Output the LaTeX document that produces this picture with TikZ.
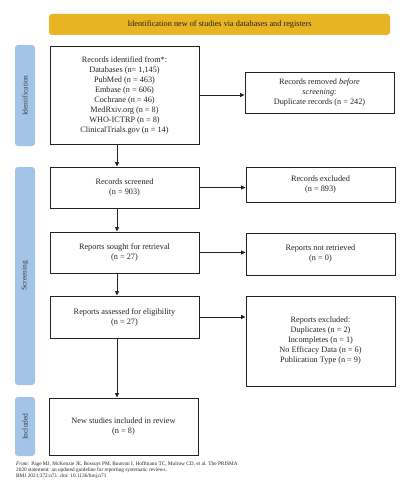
\documentclass[tikz,border=0pt]{standalone}
\usepackage{fontspec}
\setmainfont{Liberation Serif}
\usetikzlibrary{arrows.meta}
\definecolor{banner}{HTML}{E8B424}
\definecolor{sidebar}{HTML}{A2C4E6}
\definecolor{ink}{HTML}{222222}
\begin{document}
\begin{tikzpicture}[x=1pt,y=-1pt,
  box/.style={draw=ink, line width=0.9pt, align=center, inner sep=0pt,
    minimum width=149pt, text=ink, font=\fontsize{8.25}{10}\selectfont},
  side/.style={fill=sidebar, rounded corners=3pt, minimum width=20pt, inner sep=0pt},
  sidelabel/.style={rotate=90, text=black!75, font=\fontsize{7.5}{8}\selectfont},
  arr/.style={draw=ink, line width=0.9pt, -{Triangle[length=4.5pt,width=4pt]}}]
\path[use as bounding box] (0,0) rectangle (410,500);

\node[fill=banner, rounded corners=3pt, minimum width=341pt, minimum height=21pt,
  inner sep=0pt, text=ink, font=\fontsize{8.25}{10}\selectfont] (banner) at (219.5,24.5)
  {Identification new of studies via databases and registers};

\node[side, minimum height=101pt] (sid) at (25,95.5) {};
\node[sidelabel] (sidt) at (sid.center) {Identification};
\node[side, minimum height=218pt] (ssc) at (25,276) {};
\node[sidelabel] (ssct) at (ssc.center) {Screening};
\node[side, minimum height=59pt] (sin) at (25,426.5) {};
\node[sidelabel] (sint) at (sin.center) {Included};

\node[box, minimum height=98pt] (b1) at (124.5,95) {Records identified from*:\\Databases (n= 1,145)\\PubMed (n = 463)\\Embase (n = 606)\\Cochrane (n = 46)\\MedRxiv.org (n = 8)\\WHO-ICTRP (n = 8)\\ClinicalTrials.gov (n = 14)};
\node[box, minimum height=41pt] (b2) at (124.5,187.5) {Records screened\\(n = 903)};
\node[box, minimum height=41pt] (b3) at (124.5,252.5) {Reports sought for retrieval\\(n = 27)};
\node[box, minimum height=42pt] (b4) at (124.5,317) {Reports assessed for eligibility\\(n = 27)};
\node[box, minimum height=57pt] (b5) at (123.5,426.5) {New studies included in review\\(n = 8)};

\node[box, minimum height=41pt] (r1) at (319.5,92.5) {Records removed \textit{before}\\\textit{screening}:\\Duplicate records (n = 242)};
\node[box, minimum height=35pt] (r2) at (320.5,184.5) {Records excluded\\(n = 893)};
\node[box, minimum height=42pt] (r3) at (320.5,254) {Reports not retrieved\\(n = 0)};
\node[box, minimum height=90pt] (r4) at (320.5,341) {Reports excluded:\\Duplicates (n = 2)\\Incompletes (n = 1)\\No Efficacy Data (n = 6)\\Publication Type (n = 9)};

\coordinate (ax) at (117,0);
\draw[arr] (b1.south -| ax) -- (b2.north -| ax);
\draw[arr] (b2.south -| ax) -- (b3.north -| ax);
\draw[arr] (b3.south -| ax) -- (b4.north -| ax);
\draw[arr] (b4.south -| ax) -- (b5.north -| ax);

\draw[arr] (b1.east) -- (b1.east -| r1.west);
\draw[arr] (b2.east) -- (b2.east -| r2.west);
\draw[arr] (b3.east) -- (b3.east -| r3.west);
\draw[arr] (b4.east) -- (b4.east -| r4.west);

\node[anchor=north west, align=left, inner sep=0pt, text=ink,
  font=\fontsize{5.3}{5.6}\selectfont] (foot) at (16,462)
  {\textit{From:} Page MJ, McKenzie JE, Bossuyt PM, Boutron I, Hoffmann TC, Mulrow CD, et al. The PRISMA\\
   2020 statement: an updated guideline for reporting systematic reviews.\\
   BMJ 2021;372:n71. doi: 10.1136/bmj.n71};
\end{tikzpicture}
\end{document}
